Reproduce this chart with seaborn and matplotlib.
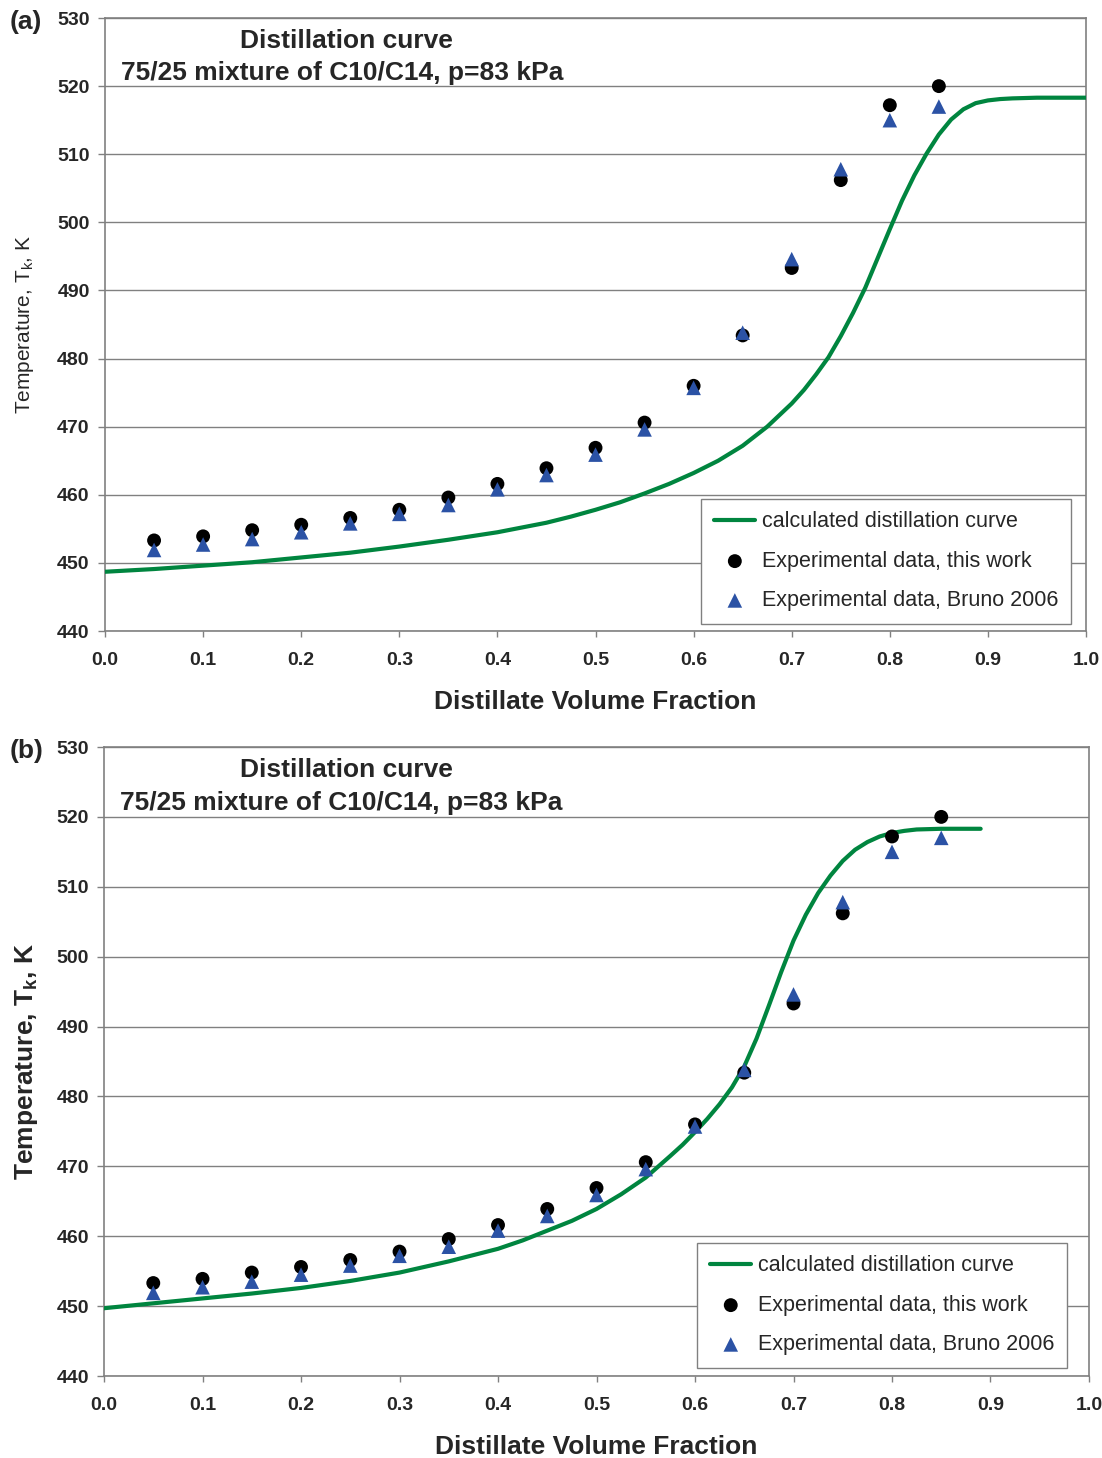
import numpy as np
import pandas as pd
import matplotlib
matplotlib.use("Agg")
import matplotlib.pyplot as plt
import seaborn as sns

# Datos experimentales (fracción de volumen destilado vs temperatura, K)
frac_exp = [0.05, 0.10, 0.15, 0.20, 0.25, 0.30, 0.35, 0.40, 0.45,
            0.50, 0.55, 0.60, 0.65, 0.70, 0.75, 0.80, 0.85]
t_this_work = [453.3, 453.9, 454.8, 455.6, 456.6, 457.8, 459.6, 461.6, 463.9,
               466.9, 470.6, 476.0, 483.4, 493.3, 506.2, 517.2, 520.0]
t_bruno = [451.9, 452.7, 453.5, 454.5, 455.8, 457.2, 458.5, 460.8, 462.9,
           465.9, 469.6, 475.7, 483.8, 494.6, 507.8, 515.0, 517.0]

# Curva calculada, panel (a)
curve_a_x = [0.0, 0.05, 0.10, 0.15, 0.20, 0.25, 0.30, 0.35, 0.40, 0.425, 0.45,
             0.475, 0.50, 0.525, 0.55, 0.575, 0.60, 0.625, 0.65, 0.675, 0.70,
             0.7125, 0.725, 0.7375, 0.75, 0.7625, 0.775, 0.7875, 0.80, 0.8125,
             0.825, 0.8375, 0.85, 0.8625, 0.875, 0.8875, 0.90, 0.9125, 0.925,
             0.95, 1.0]
curve_a_t = [448.7, 449.1, 449.6, 450.1, 450.8, 451.5, 452.4, 453.4, 454.5, 455.2, 455.9,
             456.8, 457.8, 458.9, 460.2, 461.6, 463.2, 465.0, 467.2, 470.0, 473.4,
             475.4, 477.7, 480.2, 483.3, 486.7, 490.4, 494.7, 499.0, 503.2,
             506.9, 510.1, 512.9, 515.1, 516.6, 517.5, 517.9, 518.1, 518.2,
             518.3, 518.3]

# Curva calculada, panel (b)
curve_b_x = [0.0, 0.05, 0.10, 0.15, 0.20, 0.25, 0.30, 0.35, 0.40, 0.425, 0.45,
             0.475, 0.50, 0.525, 0.55, 0.575, 0.5875, 0.60, 0.6125, 0.625, 0.6375,
             0.65, 0.6625, 0.675, 0.6875, 0.70, 0.7125, 0.725, 0.7375, 0.75,
             0.7625, 0.775, 0.7875, 0.80, 0.8125, 0.825, 0.85, 0.89]
curve_b_t = [449.7, 450.4, 451.1, 451.8, 452.6, 453.6, 454.8, 456.4, 458.2, 459.4, 460.8,
             462.2, 463.9, 466.0, 468.4, 471.5, 473.1, 474.9, 476.8, 478.9, 481.3,
             484.3, 488.3, 493.0, 497.8, 502.3, 506.0, 509.1, 511.6, 513.7,
             515.3, 516.4, 517.2, 517.7, 518.0, 518.2, 518.3, 518.3]

GREEN = "#00853f"
BLUE = "#2b52a5"
GRAY = "#808080"

sns.set_theme(style="white")
plt.rcParams['font.family'] = ['Liberation Sans', 'DejaVu Sans']
plt.rcParams['mathtext.fontset'] = 'custom'
plt.rcParams['mathtext.rm'] = 'Liberation Sans'
plt.rcParams['mathtext.bf'] = 'Liberation Sans:bold'

fig = plt.figure(figsize=(11.02, 14.58), dpi=100)
ax_a = fig.add_axes([0.0953, 0.5672, 0.8902, 0.42045])
ax_b = fig.add_axes([0.0944, 0.05624, 0.8938, 0.43141])

paneles = [
    (ax_a, curve_a_x, curve_a_t, "(a)", 1 - 22 / 1458, r"Temperature, T$_\mathrm{k}$, K", "normal", 15, 15,
     (0.9719, 1 - 624 / 1458)),
    (ax_b, curve_b_x, curve_b_t, "(b)", 1 - 751 / 1458, r"Temperature, T$_\mathbf{k}$, K", "bold", 19, 12,
     (0.9682, 1 - 1368 / 1458)),
]

for ax, cx, ct, etiqueta, ypos, ylab, ypeso, ytam, ypad, leg_pos in paneles:
    sns.lineplot(x=cx, y=ct, ax=ax, color=GREEN, lw=3, label="calculated distillation curve",
                 sort=False, zorder=3)
    sns.scatterplot(x=frac_exp, y=t_this_work, ax=ax, color="black", marker="o", s=100,
                    edgecolor="none", label="Experimental data, this work", zorder=4)
    sns.scatterplot(x=frac_exp, y=t_bruno, ax=ax, color=BLUE, marker="^", s=110,
                    edgecolor="none", label="Experimental data, Bruno 2006", zorder=5)

    ax.set_xlim(0, 1.0)
    ax.set_ylim(440, 530)
    ax.set_xticks(np.arange(0, 1.01, 0.1))
    ax.set_xticklabels([f"{v:.1f}" for v in np.arange(0, 1.01, 0.1)])
    ax.set_yticks(np.arange(440, 531, 10))

    ax.grid(axis="y", color=GRAY, lw=1)
    ax.grid(axis="x", visible=False)
    for lado in ax.spines.values():
        lado.set_color(GRAY)
        lado.set_linewidth(1.2)

    ax.tick_params(axis="x", direction="out", length=4, width=1, color=GRAY, pad=11,
                   labelsize=14, bottom=True)
    ax.tick_params(axis="y", direction="out", length=5, width=1, color=GRAY, pad=6,
                   labelsize=14, left=True)
    for t in ax.get_xticklabels() + ax.get_yticklabels():
        t.set_fontweight("bold")

    ax.set_xlabel("Distillate Volume Fraction", fontsize=19, fontweight="bold", labelpad=15)
    ax.set_ylabel(ylab, fontsize=ytam, fontweight=ypeso, labelpad=ypad)

    ax.text(0.2457, 0.963, "Distillation curve", transform=ax.transAxes, ha="center",
            va="center", fontsize=19, fontweight="bold")
    ax.text(0.0163, 0.911, "75/25 mixture of C10/C14, p=83 kPa", transform=ax.transAxes,
            ha="left", va="center", fontsize=19, fontweight="bold")

    fig.text(0.009, ypos, etiqueta, ha="left", va="center", fontsize=19, fontweight="bold")

    handles, labels = ax.get_legend_handles_labels()
    ax.legend(handles, labels, loc="lower right", bbox_to_anchor=leg_pos,
              bbox_transform=fig.transFigure, borderaxespad=0, frameon=True, fancybox=False,
              edgecolor=GRAY, framealpha=1, fontsize=15.5, labelspacing=0.85,
              handlelength=1.9, handletextpad=0.3, borderpad=0.6)

fig.savefig("out.png", dpi=100)
